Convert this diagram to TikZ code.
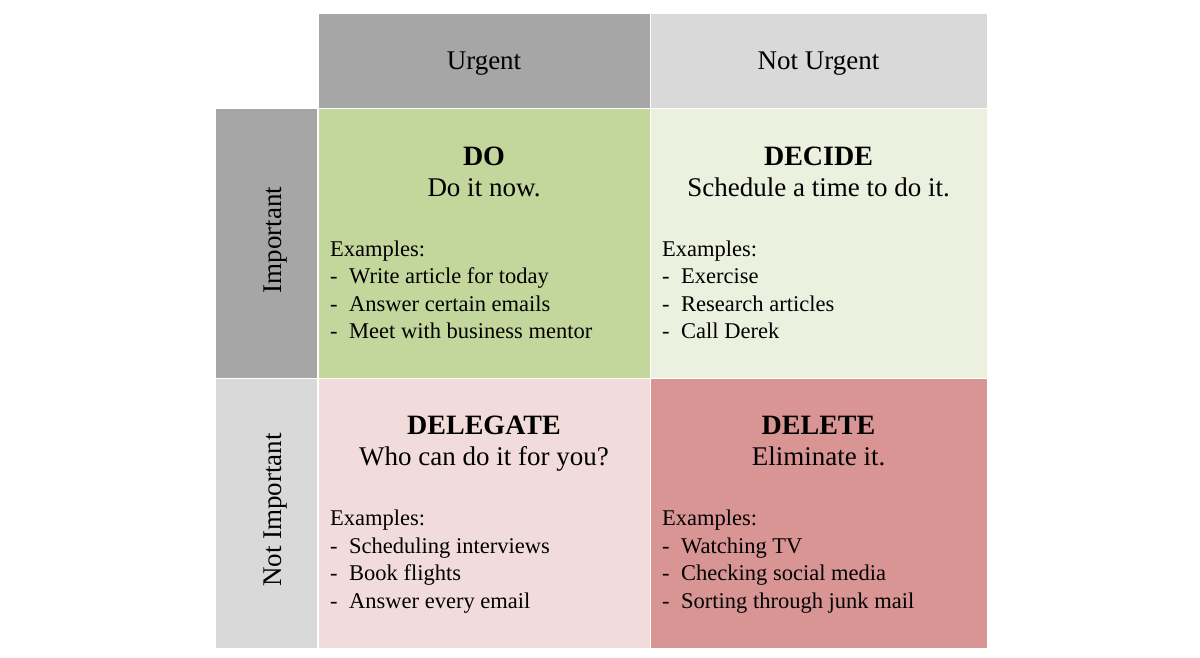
\documentclass[tikz,border=0pt]{standalone}
\usepackage{fontspec}
\setmainfont{Liberation Serif}
\definecolor{hdark}{HTML}{A6A6A6}
\definecolor{hlight}{HTML}{D9D9D9}
\definecolor{cdo}{HTML}{C3D69B}
\definecolor{cdecide}{HTML}{EBF1DE}
\definecolor{cdelegate}{HTML}{F2DCDB}
\definecolor{cdelete}{HTML}{D99594}
\begin{document}
\begin{tikzpicture}[x=1pt,y=-1pt,
  cell/.style={rectangle,inner sep=0pt,outer sep=0pt,draw=none},
  headtxt/.style={font=\fontsize{27}{30}\selectfont,inner sep=0pt,anchor=base},
  sidetxt/.style={font=\fontsize{27}{30}\selectfont,inner sep=0pt,rotate=90,anchor=center},
  ttl/.style={font=\fontsize{28}{30}\selectfont\bfseries,inner sep=0pt,anchor=base},
  sub/.style={font=\fontsize{27}{30}\selectfont,inner sep=0pt,anchor=base},
  item/.style={font=\fontsize{22.5}{26}\selectfont,inner sep=0pt,anchor=base west}]
\fill[white] (0,0) rectangle (1200,657);
\useasboundingbox (0,0) rectangle (1200,657);
% header cells
\node[cell,fill=hdark,minimum width=331pt,minimum height=94pt] (hu) at (484,60.5) {};
\node[cell,fill=hlight,minimum width=335.5pt,minimum height=94pt] (hn) at (818.75,60.5) {};
\node[cell,fill=hdark,minimum width=101pt,minimum height=268.5pt] (si) at (266.5,243.25) {};
\node[cell,fill=hlight,minimum width=101pt,minimum height=268.5pt] (sn) at (266.5,513.25) {};
% quadrants
\node[cell,fill=cdo,minimum width=331pt,minimum height=268.5pt] (qdo) at (484,243.25) {};
\node[cell,fill=cdecide,minimum width=335.5pt,minimum height=268.5pt] (qdecide) at (818.75,243.25) {};
\node[cell,fill=cdelegate,minimum width=331pt,minimum height=268.5pt] (qdelegate) at (484,513.25) {};
\node[cell,fill=cdelete,minimum width=335.5pt,minimum height=268.5pt] (qdelete) at (818.75,513.25) {};
% header texts
\node[headtxt] (tu) at (484,69.5) {Urgent};
\node[headtxt] (tn) at (818.5,69.5) {Not Urgent};
\node[sidetxt] (ti) at (276,240) {Important};
\node[sidetxt] (tni) at (276,510) {Not Important};
% DO
\node[ttl] (do1) at (484,165) {DO};
\node[sub] (do2) at (484,196) {Do it now.};
\node[item] (doe) at (330,256) {Examples:};
\node[item] (dod1) at (330,283.5) {-};
\node[item] (dot1) at (349,283.5) {Write article for today};
\node[item] (dod2) at (330,311) {-};
\node[item] (dot2) at (349,311) {Answer certain emails};
\node[item] (dod3) at (330,338.5) {-};
\node[item] (dot3) at (349,338.5) {Meet with business mentor};
% DECIDE
\node[ttl] (de1) at (818.5,165) {DECIDE};
\node[sub] (de2) at (818.5,196) {Schedule a time to do it.};
\node[item] (dee) at (662,256) {Examples:};
\node[item] (ded1) at (662,283.5) {-};
\node[item] (det1) at (681,283.5) {Exercise};
\node[item] (ded2) at (662,311) {-};
\node[item] (det2) at (681,311) {Research articles};
\node[item] (ded3) at (662,338.5) {-};
\node[item] (det3) at (681,338.5) {Call Derek};
% DELEGATE
\node[ttl] (dl1) at (484,434.5) {DELEGATE};
\node[sub] (dl2) at (484,465.5) {Who can do it for you?};
\node[item] (dle) at (330,525.5) {Examples:};
\node[item] (dld1) at (330,553) {-};
\node[item] (dlt1) at (349,553) {Scheduling interviews};
\node[item] (dld2) at (330,580.5) {-};
\node[item] (dlt2) at (349,580.5) {Book flights};
\node[item] (dld3) at (330,608) {-};
\node[item] (dlt3) at (349,608) {Answer every email};
% DELETE
\node[ttl] (dx1) at (818.5,434.5) {DELETE};
\node[sub] (dx2) at (818.5,465.5) {Eliminate it.};
\node[item] (dxe) at (662,525.5) {Examples:};
\node[item] (dxd1) at (662,553) {-};
\node[item] (dxt1) at (681,553) {Watching TV};
\node[item] (dxd2) at (662,580.5) {-};
\node[item] (dxt2) at (681,580.5) {Checking social media};
\node[item] (dxd3) at (662,608) {-};
\node[item] (dxt3) at (681,608) {Sorting through junk mail};
\end{tikzpicture}
\end{document}
